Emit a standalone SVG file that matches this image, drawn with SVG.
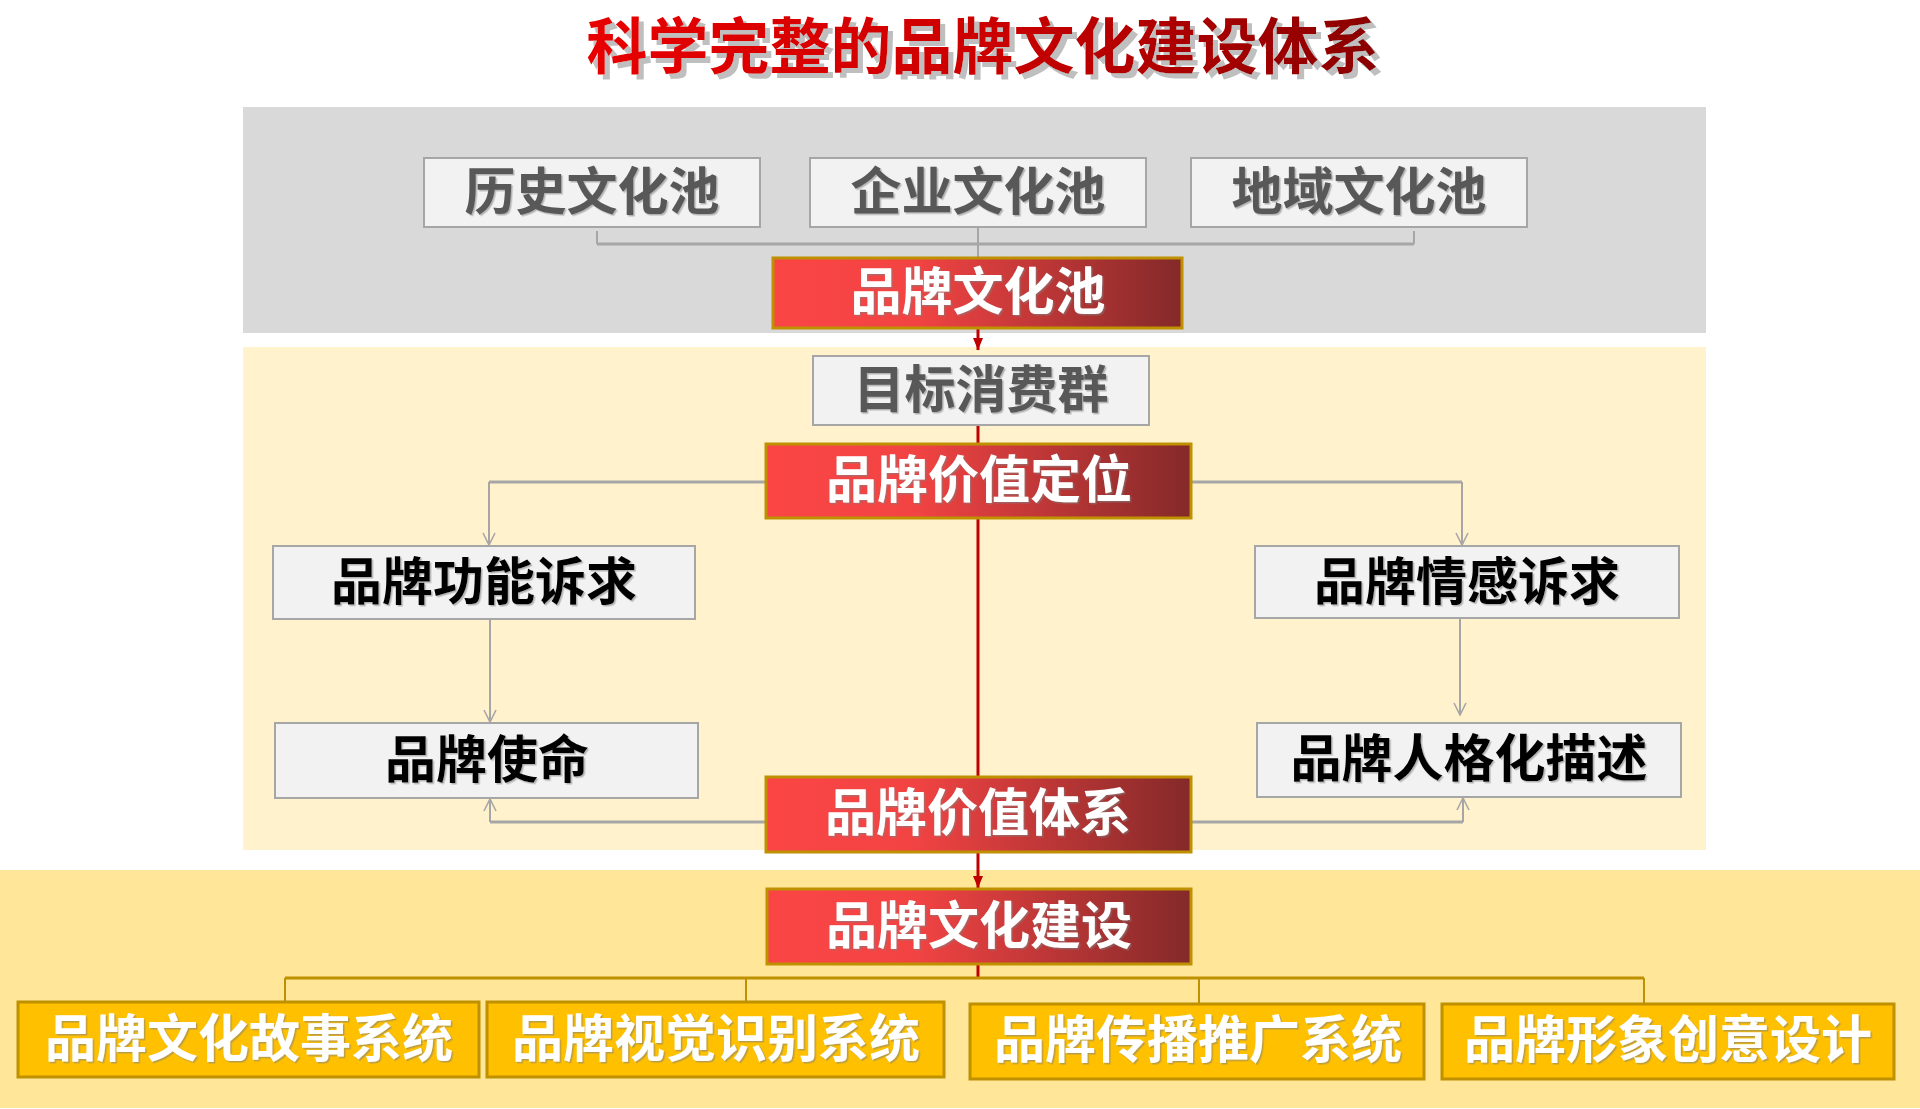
<svg xmlns="http://www.w3.org/2000/svg" width="1920" height="1109" viewBox="0 0 1920 1109">
<style>
text{font-family:'Noto Sans CJK SC','Noto Sans CJK JP',sans-serif;font-weight:700;text-anchor:middle}
.t{font-size:51px}
.gray{fill:#595959}
.blk{fill:#000}
.wht{fill:#fff}
.gbox{fill:#f2f2f2;stroke:#a6a6a6;stroke-width:2}
.rbox{fill:url(#redg);stroke:#bf9000;stroke-width:3}
.ybox{fill:#ffc000;stroke:#bf9000;stroke-width:3}
.gl{stroke:#a6a6a6;fill:none;stroke-width:2}
.glh{stroke:#a6a6a6;fill:none;stroke-width:3}
.rl{stroke:#c00000;fill:none;stroke-width:3}
.yl{stroke:#bf9000;fill:none;stroke-width:2}
.ylh{stroke:#bf9000;fill:none;stroke-width:3}
</style>
<defs>
<linearGradient id="redg" x1="0" y1="0" x2="1" y2="0">
<stop offset="0" stop-color="#fb4545"/>
<stop offset="0.35" stop-color="#f24343"/>
<stop offset="1" stop-color="#842929"/>
</linearGradient>
<linearGradient id="titleg" gradientUnits="userSpaceOnUse" x1="587" y1="0" x2="1380" y2="0">
<stop offset="0" stop-color="#e80000"/>
<stop offset="0.5" stop-color="#cc0000"/>
<stop offset="1" stop-color="#8a0000"/>
</linearGradient>
<filter id="tsh" x="-5%" y="-20%" width="110%" height="150%">
<feDropShadow dx="5" dy="5" stdDeviation="0.5" flood-color="#bfbfbf" flood-opacity="1"/>
</filter>
<filter id="sh" x="-5%" y="-20%" width="110%" height="150%">
<feDropShadow dx="1.5" dy="1.5" stdDeviation="0.3" flood-color="#7f7f7f" flood-opacity="0.55"/>
</filter>
<marker id="ga" viewBox="0 0 14 14" refX="13" refY="7" markerWidth="14" markerHeight="14" markerUnits="userSpaceOnUse" orient="auto">
<path d="M1,1 L13,7 L1,13" fill="none" stroke="#a6a6a6" stroke-width="1.6"/>
</marker>
<marker id="ra" viewBox="0 0 12 12" refX="12" refY="6" markerWidth="12" markerHeight="12" markerUnits="userSpaceOnUse" orient="auto">
<path d="M0,1 L12,6 L0,11 Z" fill="#c00000"/>
</marker>
</defs>

<rect width="1920" height="1109" fill="#ffffff"/>

<g id="panels">
<rect x="243" y="107" width="1463" height="226" fill="#d9d9d9"/>
<rect x="243" y="347" width="1463" height="503" fill="#fff2cc"/>
<rect x="0" y="870" width="1920" height="238" fill="#ffe699"/>
</g>

<g id="title">
<text x="983" y="69" font-size="61" fill="url(#titleg)" filter="url(#tsh)">科学完整的品牌文化建设体系</text>
</g>

<g id="connectors">
<line class="gl" x1="597" y1="231" x2="597" y2="244"/>
<line class="gl" x1="1414" y1="231" x2="1414" y2="244"/>
<line class="glh" x1="597" y1="244" x2="1414" y2="244" stroke="#b0abab"/>
<line class="gl" x1="978" y1="228" x2="978" y2="258"/>
<line class="rl" x1="978" y1="328" x2="978" y2="350" marker-end="url(#ra)"/>
<line class="rl" x1="978" y1="425" x2="978" y2="888" marker-end="url(#ra)"/>
<line class="rl" x1="978" y1="964" x2="978" y2="979"/>
<polyline class="glh" points="766,482 489,482"/>
<line class="gl" x1="489" y1="482" x2="489" y2="545" marker-end="url(#ga)"/>
<polyline class="glh" points="1191,482 1462,482"/>
<line class="gl" x1="1462" y1="482" x2="1462" y2="545" marker-end="url(#ga)"/>
<line class="gl" x1="490" y1="619" x2="490" y2="722" marker-end="url(#ga)"/>
<line class="gl" x1="1460" y1="618" x2="1460" y2="715" marker-end="url(#ga)"/>
<polyline class="glh" points="766,822 490,822"/>
<line class="gl" x1="490" y1="822" x2="490" y2="799" marker-end="url(#ga)"/>
<polyline class="glh" points="1191,822 1463,822"/>
<line class="gl" x1="1463" y1="822" x2="1463" y2="798" marker-end="url(#ga)"/>
<line class="ylh" x1="285" y1="978" x2="1644" y2="978"/>
<line class="yl" x1="285" y1="978" x2="285" y2="1002"/>
<line class="yl" x1="746" y1="978" x2="746" y2="1002"/>
<line class="yl" x1="1199" y1="978" x2="1199" y2="1004"/>
<line class="yl" x1="1644" y1="978" x2="1644" y2="1004"/>
</g>

<g id="n-history">
<rect class="gbox" x="424" y="158" width="336" height="69"/>
<text class="t gray" x="592" y="210" filter="url(#sh)">历史文化池</text>
</g>
<g id="n-enterprise">
<rect class="gbox" x="810" y="158" width="336" height="69"/>
<text class="t gray" x="978" y="210" filter="url(#sh)">企业文化池</text>
</g>
<g id="n-region">
<rect class="gbox" x="1191" y="158" width="336" height="69"/>
<text class="t gray" x="1359" y="210" filter="url(#sh)">地域文化池</text>
</g>
<g id="n-brandpool">
<rect class="rbox" x="773" y="258" width="409" height="70"/>
<text class="t wht" x="978" y="310" filter="url(#sh)">品牌文化池</text>
</g>
<g id="n-target">
<rect class="gbox" x="813" y="356" width="336" height="69"/>
<text class="t gray" x="981" y="408" filter="url(#sh)">目标消费群</text>
</g>
<g id="n-positioning">
<rect class="rbox" x="766" y="444" width="425" height="74"/>
<text class="t wht" x="979" y="498" filter="url(#sh)">品牌价值定位</text>
</g>
<g id="n-function">
<rect class="gbox" x="273" y="546" width="422" height="73"/>
<text class="t blk" x="484" y="600" filter="url(#sh)">品牌功能诉求</text>
</g>
<g id="n-emotion">
<rect class="gbox" x="1255" y="546" width="424" height="72"/>
<text class="t blk" x="1467" y="600" filter="url(#sh)">品牌情感诉求</text>
</g>
<g id="n-mission">
<rect class="gbox" x="275" y="723" width="423" height="75"/>
<text class="t blk" x="487" y="778" filter="url(#sh)">品牌使命</text>
</g>
<g id="n-persona">
<rect class="gbox" x="1257" y="723" width="424" height="74"/>
<text class="t blk" x="1469" y="777" filter="url(#sh)">品牌人格化描述</text>
</g>
<g id="n-valuesystem">
<rect class="rbox" x="766" y="777" width="425" height="75"/>
<text class="t wht" x="978" y="831" filter="url(#sh)">品牌价值体系</text>
</g>
<g id="n-construction">
<rect class="rbox" x="767" y="889" width="424" height="75"/>
<text class="t wht" x="979" y="944" filter="url(#sh)">品牌文化建设</text>
</g>
<g id="n-story">
<rect class="ybox" x="18" y="1002" width="461" height="75"/>
<text class="t wht" x="249" y="1057" filter="url(#sh)">品牌文化故事系统</text>
</g>
<g id="n-visual">
<rect class="ybox" x="487" y="1002" width="457" height="75"/>
<text class="t wht" x="716" y="1057" filter="url(#sh)">品牌视觉识别系统</text>
</g>
<g id="n-promotion">
<rect class="ybox" x="970" y="1004" width="454" height="75"/>
<text class="t wht" x="1198" y="1058" filter="url(#sh)">品牌传播推广系统</text>
</g>
<g id="n-image">
<rect class="ybox" x="1442" y="1004" width="452" height="75"/>
<text class="t wht" x="1668" y="1058" filter="url(#sh)">品牌形象创意设计</text>
</g>
</svg>
